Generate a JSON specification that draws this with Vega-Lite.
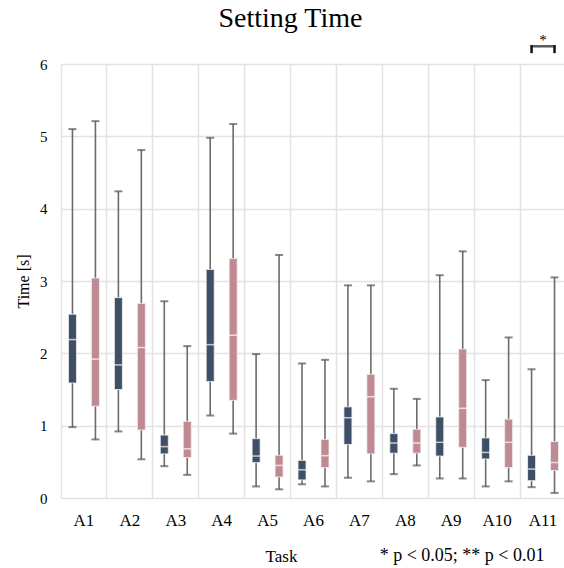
{
  "$schema": "https://vega.github.io/schema/vega-lite/v6.json",
  "autosize": "none",
  "padding": {"left": 61, "top": 64, "right": 0, "bottom": 70},
  "width": 505,
  "height": 434,
  "background": "white",
  "title": {"text": "Setting Time", "font": "Liberation Serif", "fontSize": 28, "fontWeight": "normal", "color": "#000000", "anchor": "middle", "dx": -23, "offset": 0},
  "config": {"view": {"stroke": null}, "font": "Liberation Serif"},
  "datasets": {
    "boxes": [
      {"task": "A1", "group": "g1", "lo": 0.98, "q1": 1.59, "med": 2.19, "q3": 2.54, "hi": 5.10},
      {"task": "A1", "group": "g2", "lo": 0.81, "q1": 1.27, "med": 1.92, "q3": 3.04, "hi": 5.21},
      {"task": "A2", "group": "g1", "lo": 0.92, "q1": 1.50, "med": 1.84, "q3": 2.77, "hi": 4.24},
      {"task": "A2", "group": "g2", "lo": 0.535, "q1": 0.94, "med": 2.08, "q3": 2.69, "hi": 4.81},
      {"task": "A3", "group": "g1", "lo": 0.44, "q1": 0.61, "med": 0.71, "q3": 0.87, "hi": 2.72},
      {"task": "A3", "group": "g2", "lo": 0.32, "q1": 0.56, "med": 0.68, "q3": 1.06, "hi": 2.10},
      {"task": "A4", "group": "g1", "lo": 1.14, "q1": 1.61, "med": 2.12, "q3": 3.16, "hi": 4.98},
      {"task": "A4", "group": "g2", "lo": 0.89, "q1": 1.35, "med": 2.25, "q3": 3.31, "hi": 5.17},
      {"task": "A5", "group": "g1", "lo": 0.16, "q1": 0.49, "med": 0.58, "q3": 0.82, "hi": 1.99},
      {"task": "A5", "group": "g2", "lo": 0.12, "q1": 0.29, "med": 0.45, "q3": 0.59, "hi": 3.36},
      {"task": "A6", "group": "g1", "lo": 0.19, "q1": 0.25, "med": 0.39, "q3": 0.52, "hi": 1.86},
      {"task": "A6", "group": "g2", "lo": 0.16, "q1": 0.42, "med": 0.585, "q3": 0.81, "hi": 1.91},
      {"task": "A7", "group": "g1", "lo": 0.28, "q1": 0.74, "med": 1.11, "q3": 1.26, "hi": 2.94},
      {"task": "A7", "group": "g2", "lo": 0.23, "q1": 0.61, "med": 1.40, "q3": 1.71, "hi": 2.94},
      {"task": "A8", "group": "g1", "lo": 0.33, "q1": 0.62, "med": 0.76, "q3": 0.89, "hi": 1.51},
      {"task": "A8", "group": "g2", "lo": 0.45, "q1": 0.62, "med": 0.76, "q3": 0.95, "hi": 1.37},
      {"task": "A9", "group": "g1", "lo": 0.27, "q1": 0.58, "med": 0.77, "q3": 1.12, "hi": 3.08},
      {"task": "A9", "group": "g2", "lo": 0.27, "q1": 0.70, "med": 1.24, "q3": 2.06, "hi": 3.41},
      {"task": "A10", "group": "g1", "lo": 0.16, "q1": 0.54, "med": 0.63, "q3": 0.83, "hi": 1.63},
      {"task": "A10", "group": "g2", "lo": 0.23, "q1": 0.42, "med": 0.77, "q3": 1.09, "hi": 2.22},
      {"task": "A11", "group": "g1", "lo": 0.15, "q1": 0.24, "med": 0.40, "q3": 0.59, "hi": 1.78},
      {"task": "A11", "group": "g2", "lo": 0.07, "q1": 0.38, "med": 0.49, "q3": 0.78, "hi": 3.05}
    ],
    "bracket": [{"task": "A11", "y": 6.245}],
    "legs": [
      {"task": "A11", "group": "g1", "lo": 6.15, "hi": 6.26},
      {"task": "A11", "group": "g2", "lo": 6.15, "hi": 6.26}
    ],
    "star": [{"task": "A11", "y": 6.24, "label": "*"}],
    "note": [{"task": "A11", "group": "g2", "y": -0.87, "label": "* p < 0.05; ** p < 0.01"}]
  },
  "encoding": {
    "x": {
      "field": "task", "type": "nominal",
      "scale": {"domain": ["A1","A2","A3","A4","A5","A6","A7","A8","A9","A10","A11"], "paddingInner": 0, "paddingOuter": 0},
      "axis": {
        "title": "Task", "titleFont": "Liberation Serif", "titleFontSize": 17, "titleFontWeight": "normal", "titleColor": "#000000",
        "titleX": 220, "titleY": 63, "titleAlign": "center", "titleBaseline": "alphabetic",
        "labelAngle": 0, "labelFont": "Liberation Serif", "labelFontSize": 17, "labelColor": "#000000", "labelPadding": 14,
        "bandPosition": 0,
        "ticks": false, "domain": false, "grid": true, "gridColor": "#e2e2e2", "gridWidth": 1.5
      }
    }
  },
  "layer": [
    {
      "data": {"name": "boxes"},
      "mark": {"type": "rule", "color": "#6b6b6b", "strokeWidth": 1.6},
      "encoding": {
        "xOffset": {"field": "group", "type": "nominal", "scale": {"domain": ["g1", "g2"], "paddingInner": 0, "paddingOuter": 0}},
        "y": {"field": "lo", "type": "quantitative",
          "scale": {"domain": [0, 6], "nice": false, "zero": true},
          "axis": {"title": "Time [s]", "titleFont": "Liberation Serif", "titleFontSize": 16, "titleFontWeight": "normal", "titleColor": "#000000", "titlePadding": 8,
            "values": [0,1,2,3,4,5,6], "format": "d", "labelFont": "Liberation Serif", "labelFontSize": 15, "labelColor": "#000000", "labelPadding": 14,
            "ticks": false, "domain": false, "grid": true, "gridColor": "#e2e2e2", "gridWidth": 1.5}},
        "y2": {"field": "hi"}
      }
    },
    {
      "data": {"name": "boxes"},
      "mark": {"type": "tick", "color": "#555555", "size": 8, "thickness": 2},
      "encoding": {
        "xOffset": {"field": "group", "type": "nominal"},
        "y": {"field": "lo", "type": "quantitative"}
      }
    },
    {
      "data": {"name": "boxes"},
      "mark": {"type": "tick", "color": "#555555", "size": 8, "thickness": 2},
      "encoding": {
        "xOffset": {"field": "group", "type": "nominal"},
        "y": {"field": "hi", "type": "quantitative"}
      }
    },
    {
      "data": {"name": "boxes"},
      "mark": {"type": "bar", "size": 8, "stroke": "#f2eeee", "strokeWidth": 0.8},
      "encoding": {
        "xOffset": {"field": "group", "type": "nominal"},
        "y": {"field": "q1", "type": "quantitative"},
        "y2": {"field": "q3"},
        "color": {"field": "group", "type": "nominal", "scale": {"domain": ["g1", "g2"], "range": ["#3e4f68", "#bf8a92"]}, "legend": null}
      }
    },
    {
      "data": {"name": "boxes"},
      "mark": {"type": "tick", "color": "#ffffff", "size": 8, "thickness": 1.5},
      "encoding": {
        "xOffset": {"field": "group", "type": "nominal"},
        "y": {"field": "med", "type": "quantitative"}
      }
    },
    {
      "data": {"name": "bracket"},
      "mark": {"type": "tick", "color": "#111111", "size": 25, "thickness": 2.5, "clip": false},
      "encoding": {
        "y": {"field": "y", "type": "quantitative"}
      }
    },
    {
      "data": {"name": "legs"},
      "mark": {"type": "rule", "color": "#111111", "strokeWidth": 2.5, "clip": false},
      "encoding": {
        "xOffset": {"field": "group", "type": "nominal"},
        "y": {"field": "lo", "type": "quantitative"},
        "y2": {"field": "hi"}
      }
    },
    {
      "data": {"name": "star"},
      "mark": {"type": "text", "font": "Liberation Serif", "fontSize": 15, "color": "#000000", "baseline": "alphabetic", "align": "center", "dy": -2, "clip": false},
      "encoding": {
        "y": {"field": "y", "type": "quantitative"},
        "text": {"field": "label"}
      }
    },
    {
      "data": {"name": "note"},
      "mark": {"type": "text", "font": "Liberation Serif", "fontSize": 18, "color": "#000000", "baseline": "alphabetic", "align": "right", "dx": -10, "clip": false},
      "encoding": {
        "xOffset": {"field": "group", "type": "nominal"},
        "y": {"field": "y", "type": "quantitative"},
        "text": {"field": "label"}
      }
    }
  ]
}
